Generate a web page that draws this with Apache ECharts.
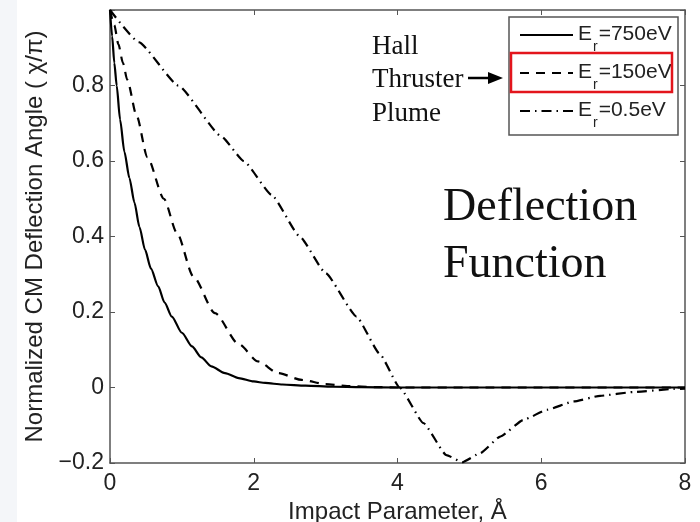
<!DOCTYPE html>
<html><head><meta charset="utf-8">
<script src="https://cdn.jsdelivr.net/npm/echarts@6/dist/echarts.min.js"></script>
<style>html,body{margin:0;padding:0;background:#fff}#c{width:700px;height:522px}</style>
</head><body><div id="c"></div>
<script>
// ---- data ----
const xTicks = [0, 2, 4, 6, 8];
const yTicks = [-0.2, 0, 0.2, 0.4, 0.6, 0.8];
const seriesNames = ['750eV', '150eV', '0.5eV'];

const x750 = [0, 0.03, 0.06, 0.093, 0.14, 0.2, 0.27, 0.34, 0.41, 0.487, 0.57, 0.67, 0.76, 0.86, 1.0, 1.14, 1.27, 1.41, 1.6, 1.79, 2.0, 2.16, 2.4, 2.72, 3.1, 3.5, 4.0, 5.0, 6.0, 7.0, 8.0];
const y750 = [1.0, 0.93, 0.86, 0.80, 0.71, 0.625, 0.555, 0.49, 0.425, 0.365, 0.315, 0.268, 0.225, 0.188, 0.145, 0.109, 0.08, 0.056, 0.038, 0.025, 0.016, 0.012, 0.008, 0.005, 0.002, 0.001, 0, 0, 0, 0, 0];

const x150 = [0, 0.06, 0.116, 0.18, 0.24, 0.37, 0.52, 0.75, 0.93, 1.16, 1.46, 1.79, 2.06, 2.34, 2.67, 3.0, 3.3, 3.7, 4.0, 5.0, 6.0, 7.0, 8.0];
const y150 = [1.0, 0.96, 0.91, 0.86, 0.815, 0.72, 0.61, 0.5, 0.41, 0.294, 0.197, 0.115, 0.069, 0.038, 0.02, 0.009, 0.004, 0.001, 0, 0, 0, 0, 0];

const x05 = [0, 0.4, 0.95, 1.55, 1.86, 2.25, 2.64, 3.0, 3.43, 3.75, 4.03, 4.36, 4.68, 4.9, 5.15, 5.43, 5.75, 6.08, 6.45, 6.82, 7.28, 7.84, 8.0];
const y05 = [1.0, 0.915, 0.8, 0.665, 0.6, 0.51, 0.4, 0.303, 0.188, 0.09, 0.0, -0.094, -0.179, -0.198, -0.174, -0.13, -0.086, -0.059, -0.037, -0.022, -0.012, -0.004, -0.003];

const zip = (xs, ys) => xs.map((x, i) => [x, ys[i]]);

const chart = echarts.init(document.getElementById('c'), null, {renderer: 'canvas'});
const sans = '"Liberation Sans", Arial, Helvetica, sans-serif';
const serif = '"Liberation Serif", "Times New Roman", serif';
const axisColor = '#555';
const fmtY = v => {
  if (Math.abs(v - 1) < 1e-9) return '';
  if (Math.abs(v) < 1e-9) return '0';
  return (v < 0 ? '\u2212' : '') + Math.abs(v).toFixed(1);
};
const axLine = {show: true, onZero: false, lineStyle: {color: axisColor, width: 1.5}};
const axTick = {show: true, inside: true, length: 5, lineStyle: {color: axisColor}};

const lineBase = {type: 'line', showSymbol: false, symbol: 'none', smooth: 0.25, smoothMonotone: 'x', z: 3};

chart.setOption({
  animation: false,
  backgroundColor: '#fff',
  grid: {left: 110, right: 15, top: 10, bottom: 59, containLabel: false, outerBoundsMode: 'none'},
  xAxis: [{
    type: 'value', min: 0, max: 8, interval: 2,
    name: 'Impact Parameter, \u00C5', nameLocation: 'middle', nameGap: 33,
    nameTextStyle: {fontFamily: sans, fontSize: 24, color: '#222'},
    axisLine: axLine, axisTick: axTick,
    axisLabel: {fontFamily: sans, fontSize: 23, color: '#222', margin: 9},
    splitLine: {show: false}
  }, {
    type: 'value', min: 0, max: 8, interval: 2, position: 'top',
    axisLine: axLine, axisTick: axTick,
    axisLabel: {show: false}, splitLine: {show: false}
  }],
  yAxis: [{
    type: 'value', min: -0.2, max: 1, interval: 0.2,
    name: 'Normalized CM Deflection Angle ( \u03C7/\u03C0)', nameLocation: 'middle', nameGap: 63,
    nameTextStyle: {fontFamily: sans, fontSize: 24, color: '#222'},
    axisLine: axLine, axisTick: axTick,
    axisLabel: {fontFamily: sans, fontSize: 23, color: '#222', margin: 6, formatter: fmtY},
    splitLine: {show: false}
  }, {
    type: 'value', min: -0.2, max: 1, interval: 0.2, position: 'right',
    axisLine: axLine, axisTick: axTick,
    axisLabel: {show: false}, splitLine: {show: false}
  }],
  legend: {
    orient: 'vertical', left: 519, top: 16, padding: 0, itemGap: 0,
    itemWidth: 53, itemHeight: 14, itemStyle: {opacity: 0},
    data: seriesNames,
    formatter: n => '{a|E}{s|r}{a|=' + n + '}',
    textStyle: {
      color: '#222', fontFamily: sans, fontSize: 21,
      rich: {
        a: {fontFamily: sans, fontSize: 21, color: '#222', lineHeight: 22, padding: [7, 0, 8, 0]},
        s: {fontFamily: sans, fontSize: 14, color: '#222', lineHeight: 13, padding: [24, 1, 0, 1]}
      }
    }
  },
  graphic: [
    {type: 'rect', z: -10, shape: {x: 0, y: 0, width: 17, height: 522}, style: {fill: '#f4f6f9'}},
    {type: 'rect', z: 50, shape: {x: 509, y: 17, width: 169, height: 118}, style: {fill: null, stroke: '#555', lineWidth: 1.5}},
    {type: 'rect', z: 51, shape: {x: 511, y: 53, width: 161, height: 39}, style: {fill: null, stroke: '#e3151c', lineWidth: 2.5}},
    {type: 'text', z: 51, x: 372, y: 47, style: {text: 'Hall', font: '27px ' + serif, fill: '#111', verticalAlign: 'middle'}},
    {type: 'text', z: 51, x: 372, y: 80, style: {text: 'Thruster', font: '27px ' + serif, fill: '#111', verticalAlign: 'middle'}},
    {type: 'text', z: 51, x: 372, y: 114, style: {text: 'Plume', font: '27px ' + serif, fill: '#111', verticalAlign: 'middle'}},
    {type: 'line', z: 51, shape: {x1: 468, y1: 78, x2: 490, y2: 78}, style: {stroke: '#000', lineWidth: 2.5}},
    {type: 'polygon', z: 51, shape: {points: [[488, 72], [503, 78], [488, 84]]}, style: {fill: '#000'}},
    {type: 'text', z: 51, x: 443, y: 208, style: {text: 'Deflection', font: '46px ' + serif, fill: '#111', verticalAlign: 'middle'}},
    {type: 'text', z: 51, x: 443, y: 265, style: {text: 'Function', font: '46px ' + serif, fill: '#111', verticalAlign: 'middle'}}
  ],
  series: [
    Object.assign({}, lineBase, {name: seriesNames[0], data: zip(x750, y750),
      lineStyle: {color: '#000', width: 2.2, type: 'solid'}, itemStyle: {color: '#000'}}),
    Object.assign({}, lineBase, {name: seriesNames[1], data: zip(x150, y150),
      lineStyle: {color: '#000', width: 2.2, type: [9, 7]}, itemStyle: {color: '#000'}}),
    Object.assign({}, lineBase, {name: seriesNames[2], data: zip(x05, y05), smooth: 0.15,
      lineStyle: {color: '#000', width: 2.2, type: [10, 5, 1.5, 5]}, itemStyle: {color: '#000'}})
  ]
});
</script></body></html>
